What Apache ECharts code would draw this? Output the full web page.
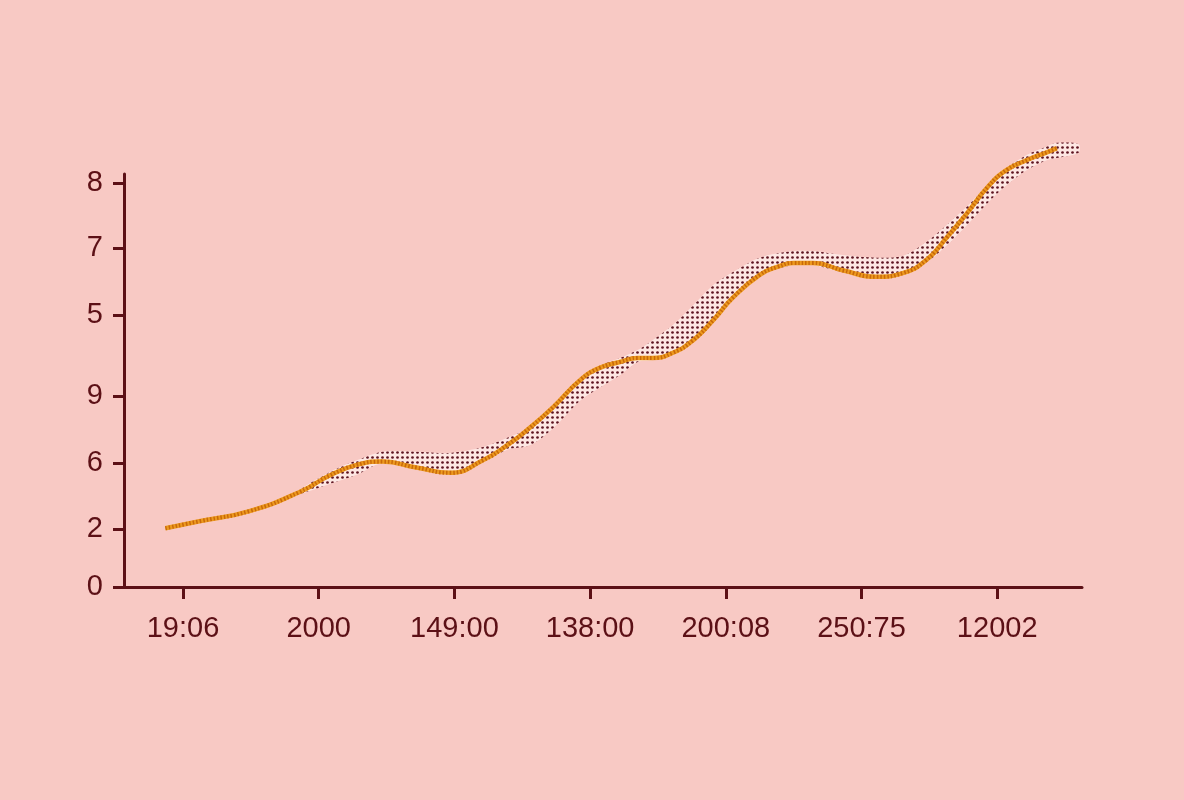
<!DOCTYPE html>
<html>
<head>
<meta charset="utf-8">
<script src="https://cdn.jsdelivr.net/npm/echarts@6/dist/echarts.min.js"></script>
<style>
html,body{margin:0;padding:0;background:#f8c9c4;}
#chart{width:1184px;height:800px;}
</style>
</head>
<body>
<div id="chart"></div>
<script>
// Tick labels (axes)
const xTickLabels = ['19:06', '2000', '149:00', '138:00', '200:08', '250:75', '12002'];
const xTickValues = [0, 1, 2, 3, 4, 5, 6];
const yTickLabels = ['0', '2', '6', '9', '5', '7', '8'];
const yTickValues = [0, 0.88, 1.88, 2.89, 4.12, 5.14, 6.12];

// Main (orange) line
const lineX = [-0.13, 0.13, 0.49, 0.86, 1.08, 1.28, 1.47, 1.72, 1.97, 2.21, 2.39, 2.56, 2.73, 2.93, 3.07, 3.22, 3.35, 3.46, 3.61, 3.76, 3.91, 4.05, 4.25, 4.38, 4.50, 4.64, 4.86, 5.11, 5.31, 5.48, 5.63, 5.78, 5.93, 6.07, 6.22, 6.37, 6.44];
const lineY = [0.89, 1.00, 1.15, 1.44, 1.69, 1.85, 1.90, 1.81, 1.73, 1.92, 2.15, 2.42, 2.73, 3.14, 3.32, 3.41, 3.47, 3.47, 3.55, 3.74, 4.05, 4.38, 4.73, 4.85, 4.91, 4.91, 4.80, 4.70, 4.76, 4.96, 5.30, 5.67, 6.06, 6.32, 6.47, 6.59, 6.65];

// Stippled band (lower / upper bounds)
const bandX = [0.86, 1.08, 1.28, 1.47, 1.72, 1.97, 2.21, 2.39, 2.56, 2.73, 2.93, 3.07, 3.22, 3.35, 3.46, 3.61, 3.76, 3.91, 4.05, 4.25, 4.50, 4.64, 4.86, 5.11, 5.31, 5.48, 5.63, 5.78, 5.93, 6.07, 6.22, 6.37, 6.44, 6.60];
const bandLo = [1.41, 1.56, 1.70, 1.88, 1.80, 1.73, 1.89, 2.08, 2.15, 2.41, 2.83, 3.02, 3.21, 3.41, 3.44, 3.55, 3.74, 4.05, 4.38, 4.73, 4.88, 4.88, 4.77, 4.67, 4.73, 4.92, 5.18, 5.49, 5.82, 6.09, 6.32, 6.47, 6.50, 6.58];
const bandHi = [1.47, 1.74, 1.92, 2.05, 2.05, 2.03, 2.12, 2.26, 2.42, 2.76, 3.17, 3.35, 3.47, 3.59, 3.74, 3.97, 4.27, 4.58, 4.77, 4.99, 5.09, 5.09, 5.03, 4.99, 5.02, 5.23, 5.49, 5.77, 6.09, 6.35, 6.55, 6.68, 6.73, 6.71];

const ink = '#5c1016';

function makeDots() {
  const c = document.createElement('canvas');
  c.width = 5; c.height = 5;
  const g = c.getContext('2d');
  g.fillStyle = 'rgba(255,240,238,0.75)';
  g.fillRect(0, 0, 5, 5);
  g.fillStyle = '#5e1420';
  g.beginPath();
  g.arc(2.5, 2.5, 1.35, 0, Math.PI * 2);
  g.fill();
  return c;
}
const dotPattern = {image: makeDots(), repeat: 'repeat'};

function pickLabel(values, labels, v) {
  for (let i = 0; i < values.length; i++) {
    if (Math.abs(values[i] - v) < 1e-6) return labels[i];
  }
  return '';
}

const lineData = lineX.map((x, i) => [x, lineY[i]]);

const chart = echarts.init(document.getElementById('chart'), null, {renderer: 'canvas'});
chart.setOption({
  backgroundColor: '#f8c9c4',
  animation: false,
  grid: {left: 124, right: 102, top: 174, bottom: 213, containLabel: false},
  xAxis: {
    type: 'value',
    min: -0.435,
    max: 6.625,
    axisLine: {show: true, onZero: false, lineStyle: {color: ink, width: 3}},
    axisTick: {show: true, customValues: xTickValues, length: 12, lineStyle: {color: ink, width: 3}},
    axisLabel: {
      show: true, customValues: xTickValues, margin: 27,
      color: ink, fontSize: 29, fontFamily: 'Liberation Sans, Arial, sans-serif',
      formatter: v => pickLabel(xTickValues, xTickLabels, v)
    },
    splitLine: {show: false}
  },
  yAxis: {
    type: 'value',
    min: 0,
    max: 6.258,
    axisLine: {show: true, onZero: false, lineStyle: {color: ink, width: 3}},
    axisTick: {show: true, customValues: yTickValues, length: 11, lineStyle: {color: ink, width: 3}},
    axisLabel: {
      show: true, customValues: yTickValues, margin: 21,
      color: ink, fontSize: 29, fontFamily: 'Liberation Sans, Arial, sans-serif',
      formatter: v => pickLabel(yTickValues, yTickLabels, v)
    },
    splitLine: {show: false}
  },
  series: [
    {
      type: 'custom', name: 'band', clip: false, z: 2,
      data: bandX.map((x, i) => [x, bandLo[i], bandHi[i]]),
      encode: {x: 0, y: [1, 2]},
      renderItem: function (params, api) {
        if (params.dataIndex !== 0) return null;
        const upper = bandX.map((x, i) => api.coord([x, bandHi[i]]));
        const lower = bandX.map((x, i) => api.coord([x, bandLo[i]])).reverse();
        return {
          type: 'polygon',
          shape: {points: upper.concat(lower), smooth: 0.3},
          style: {fill: dotPattern, stroke: null}
        };
      }
    },
    {
      type: 'line', name: 'main', smooth: true, symbol: 'none', clip: false,
      lineStyle: {color: '#ec9a1f', width: 4.5},
      data: lineData,
      z: 3
    },
    {
      type: 'line', name: 'mainTexture', smooth: true, symbol: 'none', clip: false,
      lineStyle: {color: '#c9680a', width: 4, type: [1.5, 2]},
      data: lineData,
      z: 4, silent: true
    }
  ]
});
</script>
</body>
</html>
